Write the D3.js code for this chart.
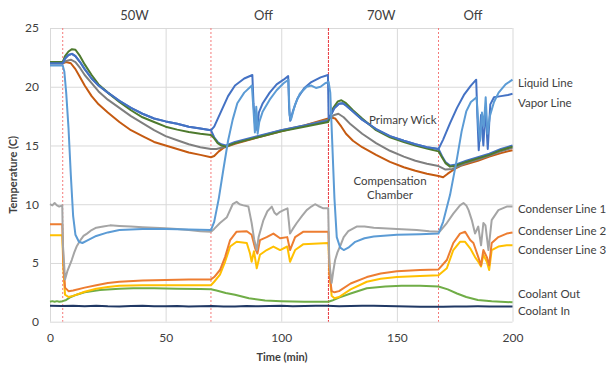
<!DOCTYPE html>
<html><head><meta charset="utf-8">
<script src="https://cdn.jsdelivr.net/npm/d3@7"></script>
<style>
html,body{margin:0;padding:0;background:#fff;}
svg text{font-family:Lato,"Open Sans",sans-serif;fill:#404040;}
</style></head>
<body><svg id="c" width="610" height="368"></svg>
<script>
// ---------- data (time in min, temperature in C) ----------
const xTicks = [0, 50, 100, 150, 200];
const yTicks = [0, 5, 10, 15, 20, 25];
const phaseTimes = [5.5, 69.6, 120.4, 168];
const phaseLabels = ["50W", "Off", "70W", "Off"];
const phaseLabelTimes = [36.5, 92.3, 143.2, 182.9];

const vaporLine = [[0,22.0],[5.5,22.0],[6.5,22.4],[8,22.7],[9.5,22.8],[11,22.6],[13,22.1],[15,21.5],[18,20.7],[21,20.1],[25,19.5],[30,18.8],[35,18.2],[40,17.7],[45,17.3],[50,17.05],[55,16.85],[60,16.6],[65,16.45],[69.6,16.3],
 [71,16.6],[74,17.9],[77,19.2],[80,20.1],[84,20.7],[87.5,21.0],[88,18.6],[88.6,16.9],[89.1,17.9],[89.6,16.3],[90.3,17.8],[92,18.6],[95,19.5],[98,20.2],[101,20.6],[103,20.9],[103.4,18.2],[103.9,17.1],[105,17.9],[107,19.0],[110,19.9],[113,20.4],[117,20.8],[120.2,21.0],
 [120.5,17.3],[121.5,17.6],[123,18.2],[125,18.55],[126.5,18.6],[128,18.4],[131,17.9],[135,17.2],[141,16.4],[147,15.8],[153,15.4],[158,15.1],[163,14.85],[168,14.7],
 [170,15.5],[173,16.9],[176,18.2],[179,19.3],[182,20.1],[184.3,20.6],[184.8,17.5],[185.4,14.6],[186.4,17.6],[187.4,15.0],[188.3,18.2],[189.3,14.7],[190.4,18.5],[192,19.1],[195,19.2],[198,19.3],[200,19.4]];

const liquidLine = [[0,21.8],[5.5,21.8],[6.2,21.3],[7,19.5],[8,16.5],[9,12.5],[10,9.0],[11,7.4],[12.5,6.8],[14,6.7],[16,6.9],[20,7.3],[25,7.6],[30,7.8],[40,7.9],[50,7.9],[60,7.85],[69.6,7.8],
 [71,8.5],[73,10.5],[75,13.0],[77,15.4],[79,17.2],[81,18.6],[84,19.5],[87.3,20.1],[88,18.0],[88.6,16.1],[89.2,18.3],[89.8,16.0],[90.5,17.0],[92,17.9],[95,18.9],[98,19.7],[101,20.3],[103.1,20.6],[103.6,17.6],[104.2,17.2],[106,18.5],[108,19.4],[111,20.0],[113,20.1],[115,19.9],[117,20.0],[119,20.3],[120.5,20.4],
 [121.2,19.5],[122,15.5],[123,10.5],[124,7.2],[125.5,6.3],[127,6.1],[129,6.3],[132,6.8],[136,7.1],[140,7.25],[150,7.4],[160,7.45],[168,7.5],
 [170,8.5],[173,10.8],[176,13.9],[178,16.2],[180,17.9],[182,18.7],[184.5,19.1],[185.3,16.5],[186,15.4],[186.8,17.8],[187.6,16.6],[188.4,19.1],[189.2,16.0],[190.2,17.5],[192,18.7],[194,19.5],[197,20.2],[200,20.6]];

const evaporator = [[0,22.0],[5.5,22.0],[6.5,22.4],[8,22.7],[9.5,22.8],[11,22.6],[13,22.1],[15,21.5],[18,20.7],[21,20.1],[25,19.5],[30,18.8],[35,18.2],[40,17.7],[45,17.3],[50,17.05],[55,16.85],[60,16.6],[65,16.45],[69.6,16.3],
 [71,15.7],[72.5,15.3],[74,15.1],[76,15.0],[80,15.3],[90,15.8],[100,16.3],[110,16.7],[120.3,17.1],
 [121.5,17.6],[123,18.2],[125,18.55],[126.5,18.6],[128,18.4],[131,17.9],[135,17.2],[141,16.4],[147,15.8],[153,15.4],[158,15.1],[163,14.85],[168,14.7],
 [169.5,14.1],[171,13.6],[173,13.3],[175,13.35],[180,13.7],[185,14.0],[190,14.3],[195,14.7],[200,15.0]];

const primaryWick = [[0,22.1],[5.5,22.1],[6.5,22.6],[8,23.0],[9.5,23.2],[11,23.15],[13,22.6],[15,21.9],[18,21.0],[21,20.2],[25,19.5],[30,18.7],[35,18.0],[40,17.4],[45,17.0],[50,16.6],[55,16.35],[60,16.15],[65,16.0],[69.6,15.9],
 [71,15.6],[72.5,15.2],[74,15.0],[76,14.9],[80,15.2],[90,15.7],[100,16.2],[110,16.6],[120.3,17.0],
 [121,17.4],[122.5,18.2],[124.5,18.75],[126,18.85],[128,18.6],[131,18.0],[135,17.3],[141,16.3],[147,15.7],[153,15.3],[158,15.0],[163,14.75],[168,14.5],
 [169.5,14.0],[171,13.5],[173,13.2],[175,13.25],[180,13.6],[185,13.9],[190,14.2],[195,14.6],[200,14.9]];

const ccUpper = [[0,22.0],[5.5,22.0],[7,22.2],[9,22.3],[11,22.1],[13,21.6],[15,21.0],[18,20.3],[21,19.6],[25,18.9],[30,18.2],[35,17.5],[40,16.9],[45,16.3],[50,15.8],[55,15.45],[60,15.1],[65,14.85],[69.6,14.7],
 [72,14.7],[75,14.85],[80,15.2],[90,15.75],[100,16.3],[110,16.7],[120.3,17.2],
 [121.5,17.4],[123,17.6],[124.7,17.7],[127,17.4],[130,16.8],[135,16.0],[141,15.2],[147,14.55],[153,14.05],[158,13.7],[163,13.45],[168,13.25],
 [171,12.95],[174,13.0],[177,13.25],[180,13.5],[185,13.8],[190,14.15],[195,14.5],[200,14.8]];

const ccLower = [[0,22.0],[5.5,22.0],[7,22.1],[9,22.0],[11,21.5],[13,20.8],[15,20.1],[18,19.2],[21,18.5],[25,17.8],[30,17.0],[35,16.3],[40,15.8],[45,15.3],[50,15.0],[55,14.7],[60,14.4],[65,14.2],[69.6,14.0],
 [71,14.1],[73,14.5],[75,14.8],[80,15.15],[90,15.7],[100,16.2],[110,16.7],[120.3,17.3],
 [121.2,17.4],[123.3,17.3],[126,16.6],[128,16.0],[131,15.4],[135,14.85],[141,14.2],[147,13.6],[153,13.15],[158,12.85],[163,12.6],[168,12.4],
 [170,12.3],[172,12.6],[175,13.0],[178,13.3],[185,13.7],[190,14.05],[195,14.35],[200,14.6]];

const condenser1 = [[0,10.0],[1,9.9],[2,10.1],[3,9.9],[4,9.8],[5.3,9.9],[5.6,6.5],[6.5,3.6],[7.5,4.3],[8.5,4.8],[9.4,5.25],[10.5,5.9],[11.5,6.4],[13,6.9],[14.5,7.3],[16,7.5],[18,7.8],[20,8.0],[23,8.1],[26,8.2],[30,8.15],[35,8.1],[40,8.05],[45,8.0],[50,7.95],[55,7.9],[60,7.8],[65,7.7],[69.6,7.65],
 [71,7.9],[73.5,8.4],[76.5,8.9],[79,10.0],[80.7,10.2],[82,10.0],[83.6,9.9],[85.8,9.8],[87.2,8.4],[88.3,7.0],[89.4,6.1],[90.2,7.2],[92.3,8.65],[94,9.4],[95.9,9.8],[97,9.3],[98,9.1],[99.5,9.35],[101,9.5],[102.7,9.65],[103.3,8.5],[103.8,7.5],[105,7.9],[106.7,8.4],[109,9.0],[111,9.5],[113,9.8],[114.6,10.0],[116,9.85],[118.2,9.65],[120.3,9.65],
 [120.8,5.0],[121.8,3.3],[122.5,4.3],[123.3,5.25],[124.3,5.9],[125.4,6.4],[127,7.2],[129,7.7],[132.6,8.1],[136,8.1],[140,8.0],[144,7.95],[150,7.9],[158.6,7.8],[164,7.7],[168.5,7.66],
 [171.6,8.4],[174.4,9.2],[177.3,9.9],[178.8,10.1],[180,9.9],[181,9.5],[182.4,8.65],[183.8,7.5],[185.2,8.1],[186.4,6.5],[187.4,8.4],[188.3,8.2],[189.6,6.1],[191,8.65],[193.9,9.5],[197.5,9.8],[200,9.8]];

const condenser2 = [[0,8.3],[5.3,8.3],[5.8,5.0],[6.5,2.9],[8,2.6],[10,2.65],[15,2.9],[20,3.1],[25,3.3],[30,3.4],[40,3.5],[50,3.55],[60,3.6],[69.6,3.6],
 [71,3.8],[73.5,4.4],[75.7,5.5],[77.9,6.95],[80.7,7.66],[85.1,7.7],[87.2,7.4],[88.7,6.25],[89.7,5.8],[90.8,6.95],[93.7,7.2],[96.6,7.5],[99.5,7.1],[102.6,7.2],[103.8,6.1],[106,7.2],[109.6,7.66],[120.4,7.66],
 [120.9,4.0],[121.8,2.6],[123,2.5],[125,2.6],[130,3.25],[137,3.8],[143,4.1],[150,4.3],[160,4.4],[168,4.45],
 [171.6,5.25],[174.4,6.7],[177.3,7.5],[179.5,7.66],[181.7,6.95],[183.1,6.7],[185.2,5.5],[186.4,4.8],[187.4,6.1],[188.9,5.5],[189.9,4.8],[191,6.7],[193.9,7.2],[197.5,7.5],[200,7.6]];

const condenser3 = [[0,7.35],[5.3,7.35],[5.8,4.5],[6.5,2.3],[8,2.1],[10,2.2],[15,2.55],[20,2.8],[25,2.95],[30,3.05],[40,3.1],[50,3.1],[60,3.1],[69.6,3.1],
 [71,3.4],[73.5,4.0],[75.7,5.1],[77.9,6.4],[80.7,6.8],[85.1,6.7],[86.5,5.8],[87.2,5.1],[88.2,6.0],[89.4,4.55],[90.8,5.7],[93.7,6.1],[96.6,6.4],[99.5,6.1],[102.6,6.4],[103.8,5.1],[106,6.1],[109.6,6.6],[120.4,6.7],
 [120.9,4.0],[121.8,2.2],[123,2.0],[125,2.1],[130,2.75],[137,3.4],[143,3.65],[150,3.8],[160,3.9],[168,3.95],
 [171.6,4.55],[174.4,6.1],[177.3,6.8],[179.5,6.8],[181.7,6.25],[183.8,5.5],[185.2,5.1],[186.4,4.7],[187.4,5.7],[188.9,5.1],[189.9,4.4],[191,6.1],[193.9,6.4],[197.5,6.5],[200,6.5]];

const coolantOut = [[0,1.7],[1,1.75],[2,1.7],[3,1.75],[4,1.7],[5.5,1.75],[7,1.85],[9,2.1],[11.5,2.3],[15,2.5],[21.6,2.7],[30,2.8],[36,2.85],[45,2.85],[55,2.8],[65,2.78],[69.6,2.76],[72,2.65],[76,2.45],[80,2.3],[86,2.0],[93,1.8],[100,1.75],[110,1.7],[120.4,1.7],[122,1.8],[125,2.05],[130,2.4],[137,2.85],[145,3.0],[152,3.05],[160,3.05],[168,3.0],[172,2.75],[176,2.4],[180,2.1],[185,1.85],[191,1.75],[200,1.65]];

const coolantIn = [[0,1.35],[5,1.33],[10,1.36],[15,1.32],[20,1.36],[25,1.31],[30,1.3],[35,1.34],[40,1.35],[45,1.31],[50,1.32],[55,1.34],[60,1.3],[65,1.32],[70,1.33],[75,1.3],[80,1.3],[85,1.33],[90,1.32],[95,1.34],[100,1.35],[105,1.32],[110,1.33],[115,1.35],[120,1.35],[125,1.32],[130,1.33],[135,1.35],[140,1.36],[145,1.33],[150,1.32],[155,1.29],[160,1.27],[165,1.28],[170,1.28],[175,1.3],[180,1.3],[185,1.31],[190,1.3],[195,1.3],[200,1.3]];

const seriesNames = ["Coolant In","Coolant Out","Condenser Line 3","Condenser Line 2","Condenser Line 1","Compensation Chamber (lower)","Compensation Chamber (upper)","Evaporator","Primary Wick","Vapor Line","Liquid Line"];
const seriesData = [coolantIn, coolantOut, condenser3, condenser2, condenser1, ccLower, ccUpper, evaporator, primaryWick, vaporLine, liquidLine];
const seriesColors = ["#203864","#70AD47","#FFC000","#ED7D31","#A5A5A5","#C55A11","#7F7F7F","#4472C4","#4E7A2E","#4472C4","#5B9BD5"];
const seriesWidths = [2,2,2,2,2,2,2,2,2,2,2];

const endLabels = ["Liquid Line","Vapor Line","Condenser Line 1","Condenser Line 2","Condenser Line 3","Coolant Out","Coolant In"];
const endLabelValues = [20.3, 18.6, 9.6, 7.7, 6.1, 2.35, 0.95];

// ---------- chart ----------
const svg = d3.select("#c");
const x = d3.scaleLinear().domain([0,200]).range([50,512.5]);
const y = d3.scaleLinear().domain([0,25]).range([321.7,28]);

// gridlines
svg.append("g")
  .attr("transform",`translate(${x(0)},0)`)
  .call(d3.axisLeft(y).tickValues(yTicks).tickSize(-(x(200)-x(0))).tickFormat(""))
  .call(g=>{g.select(".domain").remove(); g.selectAll("line").attr("stroke","#D9D9D9").attr("stroke-width",1);});
svg.append("g").attr("transform",`translate(0,${y(0)})`)
  .call(d3.axisBottom(x).tickValues(xTicks).tickSize(-(y(0)-y(25))).tickFormat(""))
  .call(g=>{g.select(".domain").remove(); g.selectAll("line").attr("stroke","#D9D9D9").attr("stroke-width",1);});

// tick labels
svg.append("g").attr("transform",`translate(${x(0)-6},0)`)
  .call(d3.axisLeft(y).tickValues(yTicks).tickSize(0).tickPadding(5))
  .call(g=>{g.select(".domain").remove(); g.selectAll("text").attr("font-size",12).attr("fill","#595959").style("font-family","Lato");});
svg.append("g").attr("transform",`translate(0,${y(0)+10})`)
  .call(d3.axisBottom(x).tickValues(xTicks).tickSize(0).tickPadding(2))
  .call(g=>{g.select(".domain").remove(); g.selectAll("text").attr("font-size",12).attr("fill","#595959").style("font-family","Lato");});

// phase markers
svg.append("g").selectAll("line").data(phaseTimes).join("line")
  .attr("x1",d=>x(d)).attr("x2",d=>x(d)).attr("y1",y(25)).attr("y2",y(0))
  .attr("stroke",(d,i)=>i===2?"#E8383D":"#F47A7A").attr("stroke-width",1)
  .attr("stroke-dasharray",(d,i)=>i===2?"3,1":"2,2");

// series
const line = d3.line().x(d=>x(d[0])).y(d=>y(d[1])).curve(d3.curveLinear);
svg.append("g").selectAll("path").data(seriesData).join("path")
  .attr("d",line).attr("fill","none")
  .attr("stroke",(d,i)=>seriesColors[i]).attr("stroke-width",(d,i)=>seriesWidths[i])
  .attr("stroke-linejoin","round");

// phase labels
svg.append("g").selectAll("text").data(phaseLabels).join("text")
  .attr("x",(d,i)=>x(phaseLabelTimes[i])).attr("y",20).attr("text-anchor","middle")
  .attr("font-size",13).text(d=>d);

// end labels
svg.append("g").selectAll("text").data(endLabels).join("text")
  .attr("x",518).attr("y",(d,i)=>y(endLabelValues[i])).attr("dy","0.35em")
  .attr("font-size",11.5).text(d=>d);

// annotations
svg.append("text").attr("x",369).attr("y",y(17.2)).attr("dy","0.35em").attr("font-size",11.5).text("Primary Wick");
svg.append("text").attr("x",390).attr("y",y(12.0)).attr("dy","0.35em").attr("text-anchor","middle").attr("font-size",11.5).text("Compensation");
svg.append("text").attr("x",390).attr("y",y(10.75)).attr("dy","0.35em").attr("text-anchor","middle").attr("font-size",11.5).text("Chamber");

// axis titles
svg.append("text").attr("transform",`translate(17,${y(12.5)}) rotate(-90)`).attr("text-anchor","middle")
  .attr("font-size",11).attr("font-weight","bold").attr("fill","#595959").text("Temperature (C)");
svg.append("text").attr("x",282).attr("y",361).attr("text-anchor","middle")
  .attr("font-size",11).attr("font-weight","bold").attr("fill","#595959").text("Time (min)");
</script></body></html>
